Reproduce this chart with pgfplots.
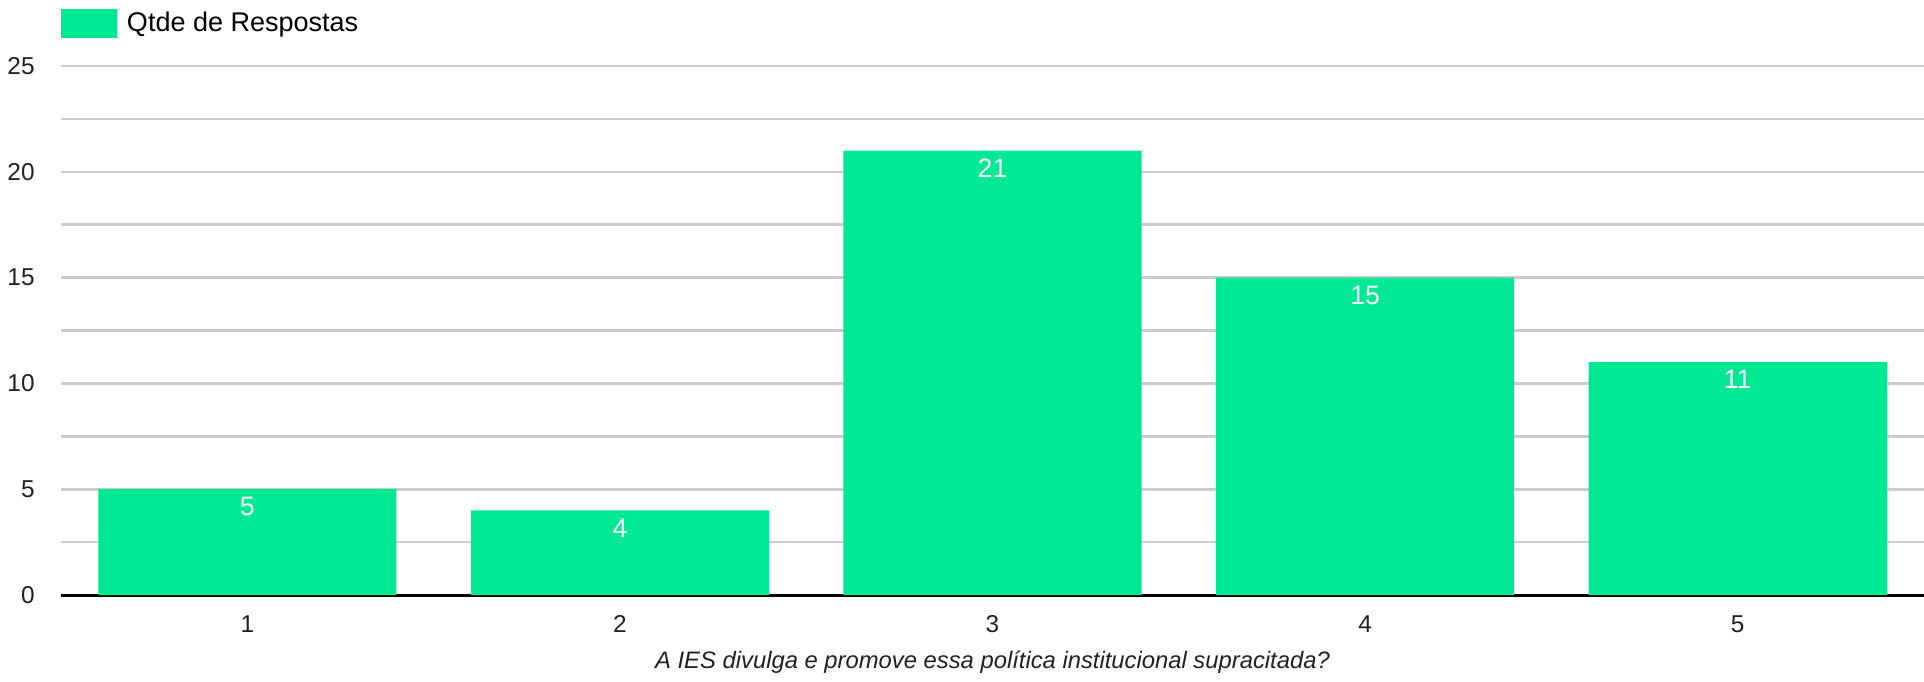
\documentclass[border=0pt]{standalone}
\usepackage{pgfplots}
\pgfplotsset{compat=1.18}
\usepackage{fontspec}
\setmainfont{Liberation Sans}
\definecolor{barcol}{RGB}{0,232,147}
\definecolor{gridcol}{RGB}{204,204,204}
\definecolor{txt}{RGB}{33,33,33}
\begin{document}
\begin{tikzpicture}
\begin{axis}[
  scale only axis,
  width=931.5pt, height=264.5pt,
  xmin=0.5, xmax=5.5, ymin=0, ymax=25,
  ybar=0pt, bar width=0.8,
  axis lines=left,
  y axis line style={draw=none},
  x axis line style={-, black, line width=1.5pt},
  major tick length=0pt, minor tick length=0pt,
  xtick={1,2,3,4,5},
  ytick={0,5,...,25},
  minor y tick num=1,
  ymajorgrids, yminorgrids,
  major grid style={gridcol, line width=1.3pt},
  minor grid style={gridcol, line width=1.3pt},
  /pgf/number format/assume math mode=true,
  tick label style={font=\fontsize{12.2}{14}\selectfont, text=txt},
  xticklabel style={inner sep=0pt, anchor=north, yshift=-10pt},
  yticklabel style={inner sep=0pt, anchor=east, xshift=-13pt},
  xlabel={\itshape A IES divulga e promove essa política institucional supracitada?},
  xlabel style={at={(axis description cs:0.5,0)}, anchor=center, yshift=-33.5pt,
    font=\fontsize{11.9}{13}\selectfont, text=txt},
  nodes near coords,
  nodes near coords style={anchor=north, inner sep=0pt, yshift=-4pt,
    font=\fontsize{13.3}{15}\selectfont, text=white},
  legend style={at={(axis description cs:0,1)}, anchor=south west, yshift=14pt,
    draw=none, fill=none, inner sep=0pt, outer sep=0pt,
    nodes={inner sep=0pt}, font=\fontsize{13.5}{15}\selectfont, text=black},
  legend image code/.code={
    \fill[barcol] (0pt,-7.25pt) rectangle (28pt,7.25pt);
    \path (33pt,0pt);
  },
]
\addplot[fill=barcol, draw=none] coordinates {(1,5) (2,4) (3,21) (4,15) (5,11)};
\addlegendentry{Qtde de Respostas}
\coordinate (bl) at (rel axis cs:0,0);
\coordinate (tr) at (rel axis cs:1,1);
\end{axis}
\pgfresetboundingbox
\path[use as bounding box] ([shift={(-30.5pt,-43pt)}]bl) rectangle ([shift={(0pt,33pt)}]tr);
\end{tikzpicture}
\end{document}
